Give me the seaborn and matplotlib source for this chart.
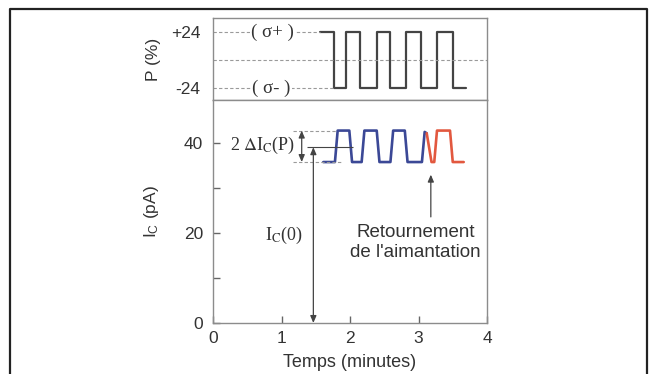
import matplotlib
matplotlib.use("Agg")
import matplotlib.pyplot as plt
from matplotlib.lines import Line2D
import seaborn as sns
import pandas as pd

# ---- data ----
p_time = [1.56, 1.76, 1.94, 2.15, 2.39, 2.59, 2.82, 3.03, 3.27, 3.50, 3.70]
p_value = [24, -24, 24, -24, 24, -24, 24, -24, 24, -24, -24]

ic_blue_time = [1.61, 1.78, 1.82, 1.99, 2.03, 2.17, 2.21, 2.39, 2.43, 2.59, 2.63,
                2.80, 2.84, 3.05, 3.09, 3.12]
ic_blue_value = [35.8, 35.8, 42.8, 42.8, 35.8, 35.8, 42.8, 42.8, 35.8, 35.8, 42.8,
                 42.8, 35.8, 35.8, 42.5, 42.2]
ic_red_time = [3.12, 3.19, 3.23, 3.27, 3.46, 3.50, 3.66]
ic_red_value = [42.2, 35.8, 35.8, 42.8, 42.8, 35.8, 35.8]

ic_high = 42.8
ic_low = 35.8
ic_zero = 39.1

x_ticks = [0, 1, 2, 3, 4]
p_ticks = [24, -24]
p_ticklabels = ["+24", "-24"]
ic_ticks = [0, 20, 40]
ic_minor = [10, 30]

# ---- style ----
sns.set_theme(style="ticks")
plt.rcParams["font.family"] = ["Liberation Sans", "DejaVu Sans"]
plt.rcParams["mathtext.fontset"] = "custom"
plt.rcParams["mathtext.rm"] = "Liberation Sans"
plt.rcParams["mathtext.it"] = "Liberation Sans:italic"
plt.rcParams["mathtext.bf"] = "Liberation Sans:bold"
plt.rcParams.update({
    "xtick.direction": "in", "ytick.direction": "in",
    "xtick.major.size": 5, "ytick.major.size": 5,
    "xtick.minor.size": 5, "ytick.minor.size": 5,
    "xtick.major.width": 1.0, "ytick.major.width": 1.0,
    "ytick.minor.width": 1.0,
    "xtick.bottom": True, "ytick.left": True,
    "xtick.color": "#666666", "ytick.color": "#666666",
})

TXT = "#333333"
LINE = "#444444"
SPINE = "#8c8c8c"
BLUE = "#3b4896"
RED = "#e2583f"
GRID = "#9a9a9a"

fig = plt.figure(figsize=(6.51, 3.74), dpi=100)
W, H = 651.0, 374.0
L, R = 213, 487
ax_p = fig.add_axes([L / W, 1 - 100 / H, (R - L) / W, 82 / H])
ax_i = fig.add_axes([L / W, 1 - 323 / H, (R - L) / W, 223 / H])

for ax in (ax_p, ax_i):
    for s in ax.spines.values():
        s.set_visible(True)
        s.set_color(SPINE)
        s.set_linewidth(1.0)
    ax.set_xlim(0, 4)

# ---- top panel: polarisation ----
df_p = pd.DataFrame({"t": p_time, "P": p_value})
sns.lineplot(data=df_p, x="t", y="P", ax=ax_p, color=LINE, lw=1.6,
             drawstyle="steps-post", estimator=None, sort=False)
ax_p.set_ylim(-34.3, 36)
ax_p.hlines(0, 0, 4, colors=GRID, linestyles=(0, (3, 2)), lw=0.8)
ax_p.hlines(p_ticks[0], 0, p_time[0], colors=GRID, linestyles=(0, (3, 2)), lw=0.8)
ax_p.hlines(p_ticks[1], 0, p_time[1], colors=GRID, linestyles=(0, (3, 2)), lw=0.8)
serif = ["Liberation Serif", "DejaVu Serif"]
ax_p.text(0.87, p_ticks[0], "( σ+ )", ha="center", va="center", fontsize=13.5,
          family=serif, color=TXT, bbox=dict(fc="white", ec="none", pad=1.0))
ax_p.text(0.85, p_ticks[1], "( σ- )", ha="center", va="center", fontsize=13.5,
          family=serif, color=TXT, bbox=dict(fc="white", ec="none", pad=1.0))
ax_p.set_yticks(p_ticks)
ax_p.set_yticklabels(p_ticklabels)
ax_p.set_xticks([])
ax_p.tick_params(axis="y", length=0, pad=9, labelsize=12.5, labelcolor=TXT)
ax_p.set_xlabel("")
ax_p.set_ylabel("P (%)", fontsize=12.5, color=TXT)
ax_p.yaxis.set_label_coords(-0.19, 0.5)

# ---- bottom panel: current ----
df_b = pd.DataFrame({"t": ic_blue_time, "I": ic_blue_value})
df_r = pd.DataFrame({"t": ic_red_time, "I": ic_red_value})
sns.lineplot(data=df_b, x="t", y="I", ax=ax_i, color=BLUE, lw=1.9,
             estimator=None, sort=False)
sns.lineplot(data=df_r, x="t", y="I", ax=ax_i, color=RED, lw=1.9,
             estimator=None, sort=False)
ax_i.set_ylim(0, 49.6)
ax_i.set_yticks(ic_ticks)
ax_i.set_yticks(ic_minor, minor=True)
ax_i.set_xticks(x_ticks)
ax_i.tick_params(axis="both", which="both", labelsize=12.5, labelcolor=TXT)
ax_i.tick_params(axis="y", pad=7)
ax_i.tick_params(axis="x", pad=6)
ax_i.set_xlabel("Temps (minutes)", fontsize=13, color=TXT)
ax_i.xaxis.set_label_coords(0.5, -0.14)
ax_i.set_ylabel(r"I$_\mathrm{C}$ (pA)", fontsize=12.5, color=TXT)
ax_i.yaxis.set_label_coords(-0.19, 0.5)

# annotations
ax_i.hlines([ic_high, ic_low], 1.17, [1.80, 1.90], colors=GRID,
            linestyles=(0, (3, 2)), lw=0.8)
ax_i.annotate("", xy=(1.295, ic_high), xytext=(1.295, ic_low),
              arrowprops=dict(arrowstyle="<|-|>,head_length=0.35,head_width=0.15",
                              color=LINE, lw=0.9, shrinkA=0, shrinkB=0))
ax_i.text(1.20, 39.4, r"2 $\Delta$I$_\mathrm{C}$(P)", ha="right", va="center",
          fontsize=13, family=serif, math_fontfamily="stix", color=TXT)
ax_i.hlines(ic_zero, 1.37, 2.04, colors=LINE, lw=0.8)
ax_i.annotate("", xy=(1.465, ic_zero), xytext=(1.465, 0),
              arrowprops=dict(arrowstyle="<|-|>,head_length=0.35,head_width=0.15",
                              color=LINE, lw=0.9, shrinkA=0, shrinkB=0))
ax_i.text(1.04, 19.4, r"I$_\mathrm{C}$(0)", ha="center", va="center",
          fontsize=13, family=serif, math_fontfamily="stix", color=TXT)
ax_i.annotate("", xy=(3.18, 33.0), xytext=(3.18, 23.6),
              arrowprops=dict(arrowstyle="-|>,head_length=0.35,head_width=0.15",
                              color=LINE, lw=0.9, shrinkA=0, shrinkB=0))
ax_i.text(2.96, 17.9, "Retournement\nde l'aimantation", ha="center", va="center",
          fontsize=13.5, color=TXT, linespacing=1.25)

# outer frame of the figure
fig.add_artist(Line2D([10 / W, 10 / W, 647 / W, 647 / W],
                      [0, 1 - 9 / H, 1 - 9 / H, 0],
                      transform=fig.transFigure, color="#222222", lw=1.6))

fig.savefig("out.png", dpi=100)
